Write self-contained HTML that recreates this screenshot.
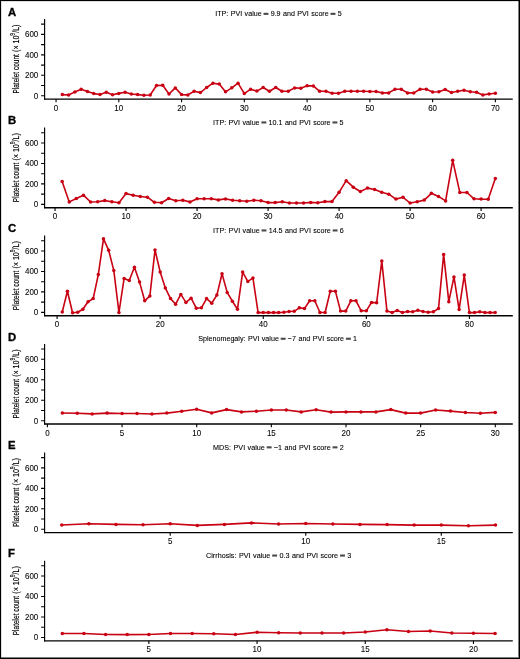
<!DOCTYPE html><html><head><meta charset="utf-8"><style>html,body{margin:0;padding:0;background:#fff;}svg{display:block;will-change:transform}text{font-family:"Liberation Sans", sans-serif;}.k{stroke:#000;stroke-width:0.08px}.y{stroke:#000;stroke-width:0.18px}.t{stroke:#000;stroke-width:0.1px;word-spacing:0.5px}</style></head><body>
<svg width="520" height="659" viewBox="0 0 520 659">
<rect x="0" y="0" width="520" height="659" fill="#fff"/>
<g fill="#000"><rect x="0" y="0" width="1" height="659"/><rect x="0" y="0" width="520" height="1"/><rect x="519" y="0" width="1" height="659"/><rect x="0" y="658" width="520" height="1"/></g>
<g fill="#000" opacity="0.12"><rect x="1" y="1" width="1" height="657"/><rect x="1" y="1" width="518" height="1"/></g>
<g fill="#000" opacity="0.5"><rect x="518" y="1" width="1" height="657"/><rect x="1" y="657" width="517" height="1"/></g>
<text transform="translate(8.0 15.70) scale(1.1 1)" font-size="10.3" font-weight="bold" fill="#000" stroke="#000" stroke-width="0.3">A</text><text id="title0" x="215.20" y="16.00" font-size="8.1" class="t" fill="#000" textLength="126.5" lengthAdjust="spacingAndGlyphs">ITP: PVI value <tspan style="fill:none;stroke:none">=</tspan> 9.9 and PVI score <tspan style="fill:none;stroke:none">=</tspan> 5</text><rect x="263.53" y="12.80" width="4.90" height="2.10" fill="#4a4a4a"/><rect x="330.56" y="12.80" width="4.90" height="2.10" fill="#4a4a4a"/><g transform="translate(18.6 58.95) rotate(-90)" class="y" font-size="9.4" fill="#000"><text x="-34.6" y="0" textLength="39.4" lengthAdjust="spacingAndGlyphs">Platelet count</text><text x="7.0" y="0" textLength="27.4" lengthAdjust="spacingAndGlyphs">(× 10<tspan font-size="6.8" dy="-3.3">9</tspan><tspan dy="3.3">/L)</tspan></text></g><path d="M44.60 19.00 V99.70" fill="none" stroke="#000" stroke-width="1.15"/><path d="M44.05 99.10 H512.80" fill="none" stroke="#000" stroke-width="1.35"/><path d="M41.1 95.80H44.60M41.1 85.56H44.60M41.1 75.32H44.60M41.1 65.08H44.60M41.1 54.84H44.60M41.1 44.60H44.60M41.1 34.36H44.60M41.1 24.12H44.60" stroke="#000" stroke-width="1.1"/><text class="k" transform="translate(38.3 98.70) scale(0.930 1)" font-size="8.60" text-anchor="end" fill="#000">0</text><text class="k" transform="translate(38.3 78.22) scale(0.930 1)" font-size="8.60" text-anchor="end" fill="#000">200</text><text class="k" transform="translate(38.3 57.74) scale(0.930 1)" font-size="8.60" text-anchor="end" fill="#000">400</text><text class="k" transform="translate(38.3 37.26) scale(0.930 1)" font-size="8.60" text-anchor="end" fill="#000">600</text><text class="k" transform="translate(56.05 110.70) scale(0.930 1)" font-size="8.60" text-anchor="middle" fill="#000">0</text><text class="k" transform="translate(118.81 110.70) scale(0.930 1)" font-size="8.60" text-anchor="middle" fill="#000">10</text><text class="k" transform="translate(181.57 110.70) scale(0.930 1)" font-size="8.60" text-anchor="middle" fill="#000">20</text><text class="k" transform="translate(244.33 110.70) scale(0.930 1)" font-size="8.60" text-anchor="middle" fill="#000">30</text><text class="k" transform="translate(307.09 110.70) scale(0.930 1)" font-size="8.60" text-anchor="middle" fill="#000">40</text><text class="k" transform="translate(369.85 110.70) scale(0.930 1)" font-size="8.60" text-anchor="middle" fill="#000">50</text><text class="k" transform="translate(432.61 110.70) scale(0.930 1)" font-size="8.60" text-anchor="middle" fill="#000">60</text><text class="k" transform="translate(495.37 110.70) scale(0.930 1)" font-size="8.60" text-anchor="middle" fill="#000">70</text><path d="M56.05 99.10V102.30M118.81 99.10V102.30M181.57 99.10V102.30M244.33 99.10V102.30M307.09 99.10V102.30M369.85 99.10V102.30M432.61 99.10V102.30M495.37 99.10V102.30" stroke="#000" stroke-width="1.1"/><polyline points="62.33,94.60 68.60,95.00 74.88,91.90 81.15,89.20 87.43,91.50 93.71,93.60 99.98,94.50 106.26,92.30 112.53,94.80 118.81,93.40 125.09,92.20 131.36,94.00 137.64,94.60 143.91,95.20 150.19,95.00 156.47,85.50 162.74,85.20 169.02,94.00 175.29,87.90 181.57,94.60 187.85,94.90 194.12,91.30 200.40,92.60 206.67,87.50 212.95,83.20 219.23,84.10 225.50,91.80 231.78,87.80 238.05,83.20 244.33,93.60 250.61,89.20 256.88,91.10 263.16,87.50 269.43,91.30 275.71,87.50 281.99,91.30 288.26,91.30 294.54,87.90 300.81,88.30 307.09,85.80 313.37,85.90 319.64,91.30 325.92,91.30 332.19,93.30 338.47,93.30 344.75,91.30 351.02,91.30 357.30,91.30 363.57,91.30 369.85,91.50 376.13,91.50 382.40,92.90 388.68,92.90 394.95,89.20 401.23,89.20 407.51,92.90 413.78,92.90 420.06,89.20 426.33,89.30 432.61,92.00 438.89,91.80 445.16,89.50 451.44,92.50 457.71,91.30 463.99,90.20 470.27,91.80 476.54,92.20 482.82,94.90 489.09,94.00 495.37,93.20" fill="none" stroke="#c80012" stroke-width="1.6" stroke-linejoin="round"/><g fill="#c80012"><circle cx="62.33" cy="94.60" r="1.75"/><circle cx="68.60" cy="95.00" r="1.75"/><circle cx="74.88" cy="91.90" r="1.75"/><circle cx="81.15" cy="89.20" r="1.75"/><circle cx="87.43" cy="91.50" r="1.75"/><circle cx="93.71" cy="93.60" r="1.75"/><circle cx="99.98" cy="94.50" r="1.75"/><circle cx="106.26" cy="92.30" r="1.75"/><circle cx="112.53" cy="94.80" r="1.75"/><circle cx="118.81" cy="93.40" r="1.75"/><circle cx="125.09" cy="92.20" r="1.75"/><circle cx="131.36" cy="94.00" r="1.75"/><circle cx="137.64" cy="94.60" r="1.75"/><circle cx="143.91" cy="95.20" r="1.75"/><circle cx="150.19" cy="95.00" r="1.75"/><circle cx="156.47" cy="85.50" r="1.75"/><circle cx="162.74" cy="85.20" r="1.75"/><circle cx="169.02" cy="94.00" r="1.75"/><circle cx="175.29" cy="87.90" r="1.75"/><circle cx="181.57" cy="94.60" r="1.75"/><circle cx="187.85" cy="94.90" r="1.75"/><circle cx="194.12" cy="91.30" r="1.75"/><circle cx="200.40" cy="92.60" r="1.75"/><circle cx="206.67" cy="87.50" r="1.75"/><circle cx="212.95" cy="83.20" r="1.75"/><circle cx="219.23" cy="84.10" r="1.75"/><circle cx="225.50" cy="91.80" r="1.75"/><circle cx="231.78" cy="87.80" r="1.75"/><circle cx="238.05" cy="83.20" r="1.75"/><circle cx="244.33" cy="93.60" r="1.75"/><circle cx="250.61" cy="89.20" r="1.75"/><circle cx="256.88" cy="91.10" r="1.75"/><circle cx="263.16" cy="87.50" r="1.75"/><circle cx="269.43" cy="91.30" r="1.75"/><circle cx="275.71" cy="87.50" r="1.75"/><circle cx="281.99" cy="91.30" r="1.75"/><circle cx="288.26" cy="91.30" r="1.75"/><circle cx="294.54" cy="87.90" r="1.75"/><circle cx="300.81" cy="88.30" r="1.75"/><circle cx="307.09" cy="85.80" r="1.75"/><circle cx="313.37" cy="85.90" r="1.75"/><circle cx="319.64" cy="91.30" r="1.75"/><circle cx="325.92" cy="91.30" r="1.75"/><circle cx="332.19" cy="93.30" r="1.75"/><circle cx="338.47" cy="93.30" r="1.75"/><circle cx="344.75" cy="91.30" r="1.75"/><circle cx="351.02" cy="91.30" r="1.75"/><circle cx="357.30" cy="91.30" r="1.75"/><circle cx="363.57" cy="91.30" r="1.75"/><circle cx="369.85" cy="91.50" r="1.75"/><circle cx="376.13" cy="91.50" r="1.75"/><circle cx="382.40" cy="92.90" r="1.75"/><circle cx="388.68" cy="92.90" r="1.75"/><circle cx="394.95" cy="89.20" r="1.75"/><circle cx="401.23" cy="89.20" r="1.75"/><circle cx="407.51" cy="92.90" r="1.75"/><circle cx="413.78" cy="92.90" r="1.75"/><circle cx="420.06" cy="89.20" r="1.75"/><circle cx="426.33" cy="89.30" r="1.75"/><circle cx="432.61" cy="92.00" r="1.75"/><circle cx="438.89" cy="91.80" r="1.75"/><circle cx="445.16" cy="89.50" r="1.75"/><circle cx="451.44" cy="92.50" r="1.75"/><circle cx="457.71" cy="91.30" r="1.75"/><circle cx="463.99" cy="90.20" r="1.75"/><circle cx="470.27" cy="91.80" r="1.75"/><circle cx="476.54" cy="92.20" r="1.75"/><circle cx="482.82" cy="94.90" r="1.75"/><circle cx="489.09" cy="94.00" r="1.75"/><circle cx="495.37" cy="93.20" r="1.75"/></g>
<text transform="translate(8.0 124.30) scale(1.1 1)" font-size="10.3" font-weight="bold" fill="#000" stroke="#000" stroke-width="0.3">B</text><text id="title1" x="213.10" y="124.60" font-size="8.1" class="t" fill="#000" textLength="130.5" lengthAdjust="spacingAndGlyphs">ITP: PVI value <tspan style="fill:none;stroke:none">=</tspan> 10.1 and PVI score <tspan style="fill:none;stroke:none">=</tspan> 5</text><rect x="261.44" y="121.40" width="4.90" height="2.10" fill="#4a4a4a"/><rect x="332.46" y="121.40" width="4.90" height="2.10" fill="#4a4a4a"/><g transform="translate(18.6 167.55) rotate(-90)" class="y" font-size="9.4" fill="#000"><text x="-34.6" y="0" textLength="39.4" lengthAdjust="spacingAndGlyphs">Platelet count</text><text x="7.0" y="0" textLength="27.4" lengthAdjust="spacingAndGlyphs">(× 10<tspan font-size="6.8" dy="-3.3">9</tspan><tspan dy="3.3">/L)</tspan></text></g><path d="M44.60 127.60 V208.30" fill="none" stroke="#000" stroke-width="1.15"/><path d="M44.05 207.70 H512.80" fill="none" stroke="#000" stroke-width="1.35"/><path d="M41.1 204.40H44.60M41.1 194.16H44.60M41.1 183.92H44.60M41.1 173.68H44.60M41.1 163.44H44.60M41.1 153.20H44.60M41.1 142.96H44.60M41.1 132.72H44.60" stroke="#000" stroke-width="1.1"/><text class="k" transform="translate(38.3 207.30) scale(0.930 1)" font-size="8.60" text-anchor="end" fill="#000">0</text><text class="k" transform="translate(38.3 186.82) scale(0.930 1)" font-size="8.60" text-anchor="end" fill="#000">200</text><text class="k" transform="translate(38.3 166.34) scale(0.930 1)" font-size="8.60" text-anchor="end" fill="#000">400</text><text class="k" transform="translate(38.3 145.86) scale(0.930 1)" font-size="8.60" text-anchor="end" fill="#000">600</text><text class="k" transform="translate(55.05 219.30) scale(0.930 1)" font-size="8.60" text-anchor="middle" fill="#000">0</text><text class="k" transform="translate(126.06 219.30) scale(0.930 1)" font-size="8.60" text-anchor="middle" fill="#000">10</text><text class="k" transform="translate(197.07 219.30) scale(0.930 1)" font-size="8.60" text-anchor="middle" fill="#000">20</text><text class="k" transform="translate(268.08 219.30) scale(0.930 1)" font-size="8.60" text-anchor="middle" fill="#000">30</text><text class="k" transform="translate(339.09 219.30) scale(0.930 1)" font-size="8.60" text-anchor="middle" fill="#000">40</text><text class="k" transform="translate(410.10 219.30) scale(0.930 1)" font-size="8.60" text-anchor="middle" fill="#000">50</text><text class="k" transform="translate(481.11 219.30) scale(0.930 1)" font-size="8.60" text-anchor="middle" fill="#000">60</text><path d="M55.05 207.70V210.90M126.06 207.70V210.90M197.07 207.70V210.90M268.08 207.70V210.90M339.09 207.70V210.90M410.10 207.70V210.90M481.11 207.70V210.90" stroke="#000" stroke-width="1.1"/><polyline points="62.15,181.40 69.25,201.90 76.35,198.50 83.45,195.20 90.56,202.00 97.66,201.80 104.76,200.60 111.86,201.80 118.96,202.70 126.06,193.60 133.16,195.30 140.26,196.50 147.36,197.20 154.46,202.30 161.56,202.70 168.67,198.50 175.77,200.70 182.87,200.30 189.97,201.90 197.07,198.70 204.17,198.70 211.27,198.70 218.37,199.90 225.47,198.90 232.57,200.30 239.68,200.70 246.78,201.20 253.88,200.30 260.98,200.70 268.08,202.60 275.18,202.60 282.28,201.80 289.38,203.00 296.48,203.00 303.58,203.00 310.69,202.40 317.79,202.70 324.89,201.60 331.99,201.60 339.09,192.30 346.19,180.70 353.29,187.20 360.39,191.50 367.49,188.10 374.60,189.50 381.70,192.20 388.80,194.20 395.90,199.10 403.00,197.30 410.10,203.00 417.20,201.80 424.30,200.10 431.40,193.30 438.50,196.40 445.61,200.90 452.71,160.30 459.81,192.40 466.91,192.50 474.01,198.80 481.11,199.10 488.21,199.20 495.31,178.50" fill="none" stroke="#c80012" stroke-width="1.6" stroke-linejoin="round"/><g fill="#c80012"><circle cx="62.15" cy="181.40" r="1.75"/><circle cx="69.25" cy="201.90" r="1.75"/><circle cx="76.35" cy="198.50" r="1.75"/><circle cx="83.45" cy="195.20" r="1.75"/><circle cx="90.56" cy="202.00" r="1.75"/><circle cx="97.66" cy="201.80" r="1.75"/><circle cx="104.76" cy="200.60" r="1.75"/><circle cx="111.86" cy="201.80" r="1.75"/><circle cx="118.96" cy="202.70" r="1.75"/><circle cx="126.06" cy="193.60" r="1.75"/><circle cx="133.16" cy="195.30" r="1.75"/><circle cx="140.26" cy="196.50" r="1.75"/><circle cx="147.36" cy="197.20" r="1.75"/><circle cx="154.46" cy="202.30" r="1.75"/><circle cx="161.56" cy="202.70" r="1.75"/><circle cx="168.67" cy="198.50" r="1.75"/><circle cx="175.77" cy="200.70" r="1.75"/><circle cx="182.87" cy="200.30" r="1.75"/><circle cx="189.97" cy="201.90" r="1.75"/><circle cx="197.07" cy="198.70" r="1.75"/><circle cx="204.17" cy="198.70" r="1.75"/><circle cx="211.27" cy="198.70" r="1.75"/><circle cx="218.37" cy="199.90" r="1.75"/><circle cx="225.47" cy="198.90" r="1.75"/><circle cx="232.57" cy="200.30" r="1.75"/><circle cx="239.68" cy="200.70" r="1.75"/><circle cx="246.78" cy="201.20" r="1.75"/><circle cx="253.88" cy="200.30" r="1.75"/><circle cx="260.98" cy="200.70" r="1.75"/><circle cx="268.08" cy="202.60" r="1.75"/><circle cx="275.18" cy="202.60" r="1.75"/><circle cx="282.28" cy="201.80" r="1.75"/><circle cx="289.38" cy="203.00" r="1.75"/><circle cx="296.48" cy="203.00" r="1.75"/><circle cx="303.58" cy="203.00" r="1.75"/><circle cx="310.69" cy="202.40" r="1.75"/><circle cx="317.79" cy="202.70" r="1.75"/><circle cx="324.89" cy="201.60" r="1.75"/><circle cx="331.99" cy="201.60" r="1.75"/><circle cx="339.09" cy="192.30" r="1.75"/><circle cx="346.19" cy="180.70" r="1.75"/><circle cx="353.29" cy="187.20" r="1.75"/><circle cx="360.39" cy="191.50" r="1.75"/><circle cx="367.49" cy="188.10" r="1.75"/><circle cx="374.60" cy="189.50" r="1.75"/><circle cx="381.70" cy="192.20" r="1.75"/><circle cx="388.80" cy="194.20" r="1.75"/><circle cx="395.90" cy="199.10" r="1.75"/><circle cx="403.00" cy="197.30" r="1.75"/><circle cx="410.10" cy="203.00" r="1.75"/><circle cx="417.20" cy="201.80" r="1.75"/><circle cx="424.30" cy="200.10" r="1.75"/><circle cx="431.40" cy="193.30" r="1.75"/><circle cx="438.50" cy="196.40" r="1.75"/><circle cx="445.61" cy="200.90" r="1.75"/><circle cx="452.71" cy="160.30" r="1.75"/><circle cx="459.81" cy="192.40" r="1.75"/><circle cx="466.91" cy="192.50" r="1.75"/><circle cx="474.01" cy="198.80" r="1.75"/><circle cx="481.11" cy="199.10" r="1.75"/><circle cx="488.21" cy="199.20" r="1.75"/><circle cx="495.31" cy="178.50" r="1.75"/></g>
<text transform="translate(8.0 232.30) scale(1.1 1)" font-size="10.3" font-weight="bold" fill="#000" stroke="#000" stroke-width="0.3">C</text><text id="title2" x="213.10" y="232.60" font-size="8.1" class="t" fill="#000" textLength="130.7" lengthAdjust="spacingAndGlyphs">ITP: PVI value <tspan style="fill:none;stroke:none">=</tspan> 14.5 and PVI score <tspan style="fill:none;stroke:none">=</tspan> 6</text><rect x="261.52" y="229.40" width="4.90" height="2.10" fill="#4a4a4a"/><rect x="332.65" y="229.40" width="4.90" height="2.10" fill="#4a4a4a"/><g transform="translate(18.6 275.55) rotate(-90)" class="y" font-size="9.4" fill="#000"><text x="-34.6" y="0" textLength="39.4" lengthAdjust="spacingAndGlyphs">Platelet count</text><text x="7.0" y="0" textLength="27.4" lengthAdjust="spacingAndGlyphs">(× 10<tspan font-size="6.8" dy="-3.3">9</tspan><tspan dy="3.3">/L)</tspan></text></g><path d="M44.60 235.60 V316.30" fill="none" stroke="#000" stroke-width="1.15"/><path d="M44.05 315.70 H512.80" fill="none" stroke="#000" stroke-width="1.35"/><path d="M41.1 312.40H44.60M41.1 302.16H44.60M41.1 291.92H44.60M41.1 281.68H44.60M41.1 271.44H44.60M41.1 261.20H44.60M41.1 250.96H44.60M41.1 240.72H44.60" stroke="#000" stroke-width="1.1"/><text class="k" transform="translate(38.3 315.30) scale(0.930 1)" font-size="8.60" text-anchor="end" fill="#000">0</text><text class="k" transform="translate(38.3 294.82) scale(0.930 1)" font-size="8.60" text-anchor="end" fill="#000">200</text><text class="k" transform="translate(38.3 274.34) scale(0.930 1)" font-size="8.60" text-anchor="end" fill="#000">400</text><text class="k" transform="translate(38.3 253.86) scale(0.930 1)" font-size="8.60" text-anchor="end" fill="#000">600</text><text class="k" transform="translate(57.10 327.30) scale(0.930 1)" font-size="8.60" text-anchor="middle" fill="#000">0</text><text class="k" transform="translate(160.18 327.30) scale(0.930 1)" font-size="8.60" text-anchor="middle" fill="#000">20</text><text class="k" transform="translate(263.26 327.30) scale(0.930 1)" font-size="8.60" text-anchor="middle" fill="#000">40</text><text class="k" transform="translate(366.34 327.30) scale(0.930 1)" font-size="8.60" text-anchor="middle" fill="#000">60</text><text class="k" transform="translate(469.42 327.30) scale(0.930 1)" font-size="8.60" text-anchor="middle" fill="#000">80</text><path d="M57.10 315.70V318.90M160.18 315.70V318.90M263.26 315.70V318.90M366.34 315.70V318.90M469.42 315.70V318.90" stroke="#000" stroke-width="1.1"/><polyline points="62.25,312.00 67.41,291.20 72.56,312.80 77.72,312.30 82.87,309.30 88.02,301.80 93.18,298.60 98.33,274.50 103.49,238.80 108.64,250.20 113.79,270.40 118.95,312.50 124.10,278.40 129.26,280.50 134.41,267.20 139.56,282.10 144.72,300.80 149.87,295.90 155.03,249.90 160.18,272.00 165.33,287.90 170.49,298.60 175.64,304.20 180.80,294.40 185.95,302.40 191.10,298.20 196.26,308.20 201.41,307.80 206.57,298.60 211.72,303.20 216.87,295.10 222.03,273.70 227.18,292.40 232.34,301.20 237.49,309.20 242.64,272.10 247.80,281.40 252.95,278.10 258.11,312.60 263.26,312.60 268.41,312.60 273.57,312.60 278.72,312.60 283.88,312.20 289.03,311.50 294.18,311.30 299.34,307.80 304.49,308.60 309.65,300.80 314.80,300.80 319.95,312.50 325.11,312.50 330.26,291.20 335.42,291.20 340.57,311.10 345.72,311.10 350.88,300.80 356.03,300.80 361.19,310.80 366.34,310.80 371.49,302.40 376.65,302.80 381.80,261.00 386.96,311.10 392.11,312.50 397.26,310.40 402.42,312.50 407.57,311.50 412.73,311.80 417.88,310.30 423.03,311.50 428.19,312.20 433.34,311.80 438.50,308.60 443.65,254.40 448.80,301.70 453.96,276.90 459.11,309.60 464.27,275.10 469.42,312.60 474.57,312.60 479.73,311.80 484.88,312.60 490.04,312.60 495.19,312.60" fill="none" stroke="#c80012" stroke-width="1.6" stroke-linejoin="round"/><g fill="#c80012"><circle cx="62.25" cy="312.00" r="1.75"/><circle cx="67.41" cy="291.20" r="1.75"/><circle cx="72.56" cy="312.80" r="1.75"/><circle cx="77.72" cy="312.30" r="1.75"/><circle cx="82.87" cy="309.30" r="1.75"/><circle cx="88.02" cy="301.80" r="1.75"/><circle cx="93.18" cy="298.60" r="1.75"/><circle cx="98.33" cy="274.50" r="1.75"/><circle cx="103.49" cy="238.80" r="1.75"/><circle cx="108.64" cy="250.20" r="1.75"/><circle cx="113.79" cy="270.40" r="1.75"/><circle cx="118.95" cy="312.50" r="1.75"/><circle cx="124.10" cy="278.40" r="1.75"/><circle cx="129.26" cy="280.50" r="1.75"/><circle cx="134.41" cy="267.20" r="1.75"/><circle cx="139.56" cy="282.10" r="1.75"/><circle cx="144.72" cy="300.80" r="1.75"/><circle cx="149.87" cy="295.90" r="1.75"/><circle cx="155.03" cy="249.90" r="1.75"/><circle cx="160.18" cy="272.00" r="1.75"/><circle cx="165.33" cy="287.90" r="1.75"/><circle cx="170.49" cy="298.60" r="1.75"/><circle cx="175.64" cy="304.20" r="1.75"/><circle cx="180.80" cy="294.40" r="1.75"/><circle cx="185.95" cy="302.40" r="1.75"/><circle cx="191.10" cy="298.20" r="1.75"/><circle cx="196.26" cy="308.20" r="1.75"/><circle cx="201.41" cy="307.80" r="1.75"/><circle cx="206.57" cy="298.60" r="1.75"/><circle cx="211.72" cy="303.20" r="1.75"/><circle cx="216.87" cy="295.10" r="1.75"/><circle cx="222.03" cy="273.70" r="1.75"/><circle cx="227.18" cy="292.40" r="1.75"/><circle cx="232.34" cy="301.20" r="1.75"/><circle cx="237.49" cy="309.20" r="1.75"/><circle cx="242.64" cy="272.10" r="1.75"/><circle cx="247.80" cy="281.40" r="1.75"/><circle cx="252.95" cy="278.10" r="1.75"/><circle cx="258.11" cy="312.60" r="1.75"/><circle cx="263.26" cy="312.60" r="1.75"/><circle cx="268.41" cy="312.60" r="1.75"/><circle cx="273.57" cy="312.60" r="1.75"/><circle cx="278.72" cy="312.60" r="1.75"/><circle cx="283.88" cy="312.20" r="1.75"/><circle cx="289.03" cy="311.50" r="1.75"/><circle cx="294.18" cy="311.30" r="1.75"/><circle cx="299.34" cy="307.80" r="1.75"/><circle cx="304.49" cy="308.60" r="1.75"/><circle cx="309.65" cy="300.80" r="1.75"/><circle cx="314.80" cy="300.80" r="1.75"/><circle cx="319.95" cy="312.50" r="1.75"/><circle cx="325.11" cy="312.50" r="1.75"/><circle cx="330.26" cy="291.20" r="1.75"/><circle cx="335.42" cy="291.20" r="1.75"/><circle cx="340.57" cy="311.10" r="1.75"/><circle cx="345.72" cy="311.10" r="1.75"/><circle cx="350.88" cy="300.80" r="1.75"/><circle cx="356.03" cy="300.80" r="1.75"/><circle cx="361.19" cy="310.80" r="1.75"/><circle cx="366.34" cy="310.80" r="1.75"/><circle cx="371.49" cy="302.40" r="1.75"/><circle cx="376.65" cy="302.80" r="1.75"/><circle cx="381.80" cy="261.00" r="1.75"/><circle cx="386.96" cy="311.10" r="1.75"/><circle cx="392.11" cy="312.50" r="1.75"/><circle cx="397.26" cy="310.40" r="1.75"/><circle cx="402.42" cy="312.50" r="1.75"/><circle cx="407.57" cy="311.50" r="1.75"/><circle cx="412.73" cy="311.80" r="1.75"/><circle cx="417.88" cy="310.30" r="1.75"/><circle cx="423.03" cy="311.50" r="1.75"/><circle cx="428.19" cy="312.20" r="1.75"/><circle cx="433.34" cy="311.80" r="1.75"/><circle cx="438.50" cy="308.60" r="1.75"/><circle cx="443.65" cy="254.40" r="1.75"/><circle cx="448.80" cy="301.70" r="1.75"/><circle cx="453.96" cy="276.90" r="1.75"/><circle cx="459.11" cy="309.60" r="1.75"/><circle cx="464.27" cy="275.10" r="1.75"/><circle cx="469.42" cy="312.60" r="1.75"/><circle cx="474.57" cy="312.60" r="1.75"/><circle cx="479.73" cy="311.80" r="1.75"/><circle cx="484.88" cy="312.60" r="1.75"/><circle cx="490.04" cy="312.60" r="1.75"/><circle cx="495.19" cy="312.60" r="1.75"/></g>
<text transform="translate(8.0 340.60) scale(1.1 1)" font-size="10.3" font-weight="bold" fill="#000" stroke="#000" stroke-width="0.3">D</text><text id="title3" x="198.30" y="340.90" font-size="8.1" class="t" fill="#000" textLength="158.8" lengthAdjust="spacingAndGlyphs">Splenomegaly: PVI value <tspan style="fill:none;stroke:none">=</tspan> −7 and PVI score <tspan style="fill:none;stroke:none">=</tspan> 1</text><rect x="280.71" y="337.70" width="4.90" height="2.10" fill="#4a4a4a"/><rect x="345.96" y="337.70" width="4.90" height="2.10" fill="#4a4a4a"/><g transform="translate(18.6 383.85) rotate(-90)" class="y" font-size="9.4" fill="#000"><text x="-34.6" y="0" textLength="39.4" lengthAdjust="spacingAndGlyphs">Platelet count</text><text x="7.0" y="0" textLength="27.4" lengthAdjust="spacingAndGlyphs">(× 10<tspan font-size="6.8" dy="-3.3">9</tspan><tspan dy="3.3">/L)</tspan></text></g><path d="M44.60 343.90 V424.60" fill="none" stroke="#000" stroke-width="1.15"/><path d="M44.05 424.00 H512.80" fill="none" stroke="#000" stroke-width="1.35"/><path d="M41.1 420.70H44.60M41.1 410.46H44.60M41.1 400.22H44.60M41.1 389.98H44.60M41.1 379.74H44.60M41.1 369.50H44.60M41.1 359.26H44.60M41.1 349.02H44.60" stroke="#000" stroke-width="1.1"/><text class="k" transform="translate(38.3 423.60) scale(0.930 1)" font-size="8.60" text-anchor="end" fill="#000">0</text><text class="k" transform="translate(38.3 403.12) scale(0.930 1)" font-size="8.60" text-anchor="end" fill="#000">200</text><text class="k" transform="translate(38.3 382.64) scale(0.930 1)" font-size="8.60" text-anchor="end" fill="#000">400</text><text class="k" transform="translate(38.3 362.16) scale(0.930 1)" font-size="8.60" text-anchor="end" fill="#000">600</text><text class="k" transform="translate(47.40 435.60) scale(0.930 1)" font-size="8.60" text-anchor="middle" fill="#000">0</text><text class="k" transform="translate(122.05 435.60) scale(0.930 1)" font-size="8.60" text-anchor="middle" fill="#000">5</text><text class="k" transform="translate(196.70 435.60) scale(0.930 1)" font-size="8.60" text-anchor="middle" fill="#000">10</text><text class="k" transform="translate(271.35 435.60) scale(0.930 1)" font-size="8.60" text-anchor="middle" fill="#000">15</text><text class="k" transform="translate(346.00 435.60) scale(0.930 1)" font-size="8.60" text-anchor="middle" fill="#000">20</text><text class="k" transform="translate(420.65 435.60) scale(0.930 1)" font-size="8.60" text-anchor="middle" fill="#000">25</text><text class="k" transform="translate(495.30 435.60) scale(0.930 1)" font-size="8.60" text-anchor="middle" fill="#000">30</text><path d="M47.40 424.00V427.20M122.05 424.00V427.20M196.70 424.00V427.20M271.35 424.00V427.20M346.00 424.00V427.20M420.65 424.00V427.20M495.30 424.00V427.20" stroke="#000" stroke-width="1.1"/><polyline points="62.33,413.00 77.26,413.30 92.19,413.90 107.12,413.10 122.05,413.50 136.98,413.50 151.91,414.00 166.84,413.10 181.77,411.20 196.70,409.20 211.63,412.90 226.56,409.60 241.49,411.90 256.42,411.30 271.35,410.00 286.28,410.00 301.21,411.90 316.14,409.80 331.07,412.10 346.00,411.90 360.93,411.90 375.86,411.90 390.79,409.60 405.72,413.10 420.65,413.10 435.58,410.00 450.51,411.10 465.44,412.50 480.37,413.20 495.30,412.40" fill="none" stroke="#c80012" stroke-width="1.6" stroke-linejoin="round"/><g fill="#c80012"><circle cx="62.33" cy="413.00" r="1.75"/><circle cx="77.26" cy="413.30" r="1.75"/><circle cx="92.19" cy="413.90" r="1.75"/><circle cx="107.12" cy="413.10" r="1.75"/><circle cx="122.05" cy="413.50" r="1.75"/><circle cx="136.98" cy="413.50" r="1.75"/><circle cx="151.91" cy="414.00" r="1.75"/><circle cx="166.84" cy="413.10" r="1.75"/><circle cx="181.77" cy="411.20" r="1.75"/><circle cx="196.70" cy="409.20" r="1.75"/><circle cx="211.63" cy="412.90" r="1.75"/><circle cx="226.56" cy="409.60" r="1.75"/><circle cx="241.49" cy="411.90" r="1.75"/><circle cx="256.42" cy="411.30" r="1.75"/><circle cx="271.35" cy="410.00" r="1.75"/><circle cx="286.28" cy="410.00" r="1.75"/><circle cx="301.21" cy="411.90" r="1.75"/><circle cx="316.14" cy="409.80" r="1.75"/><circle cx="331.07" cy="412.10" r="1.75"/><circle cx="346.00" cy="411.90" r="1.75"/><circle cx="360.93" cy="411.90" r="1.75"/><circle cx="375.86" cy="411.90" r="1.75"/><circle cx="390.79" cy="409.60" r="1.75"/><circle cx="405.72" cy="413.10" r="1.75"/><circle cx="420.65" cy="413.10" r="1.75"/><circle cx="435.58" cy="410.00" r="1.75"/><circle cx="450.51" cy="411.10" r="1.75"/><circle cx="465.44" cy="412.50" r="1.75"/><circle cx="480.37" cy="413.20" r="1.75"/><circle cx="495.30" cy="412.40" r="1.75"/></g>
<text transform="translate(8.0 449.20) scale(1.1 1)" font-size="10.3" font-weight="bold" fill="#000" stroke="#000" stroke-width="0.3">E</text><text id="title4" x="213.10" y="449.50" font-size="8.1" class="t" fill="#000" textLength="130.7" lengthAdjust="spacingAndGlyphs">MDS: PVI value <tspan style="fill:none;stroke:none">=</tspan> −1 and PVI score <tspan style="fill:none;stroke:none">=</tspan> 2</text><rect x="266.71" y="446.30" width="4.90" height="2.10" fill="#4a4a4a"/><rect x="332.58" y="446.30" width="4.90" height="2.10" fill="#4a4a4a"/><g transform="translate(18.6 492.45) rotate(-90)" class="y" font-size="9.4" fill="#000"><text x="-34.6" y="0" textLength="39.4" lengthAdjust="spacingAndGlyphs">Platelet count</text><text x="7.0" y="0" textLength="27.4" lengthAdjust="spacingAndGlyphs">(× 10<tspan font-size="6.8" dy="-3.3">9</tspan><tspan dy="3.3">/L)</tspan></text></g><path d="M44.60 452.50 V533.20" fill="none" stroke="#000" stroke-width="1.15"/><path d="M44.05 532.60 H512.80" fill="none" stroke="#000" stroke-width="1.35"/><path d="M41.1 529.30H44.60M41.1 519.06H44.60M41.1 508.82H44.60M41.1 498.58H44.60M41.1 488.34H44.60M41.1 478.10H44.60M41.1 467.86H44.60M41.1 457.62H44.60" stroke="#000" stroke-width="1.1"/><text class="k" transform="translate(38.3 532.20) scale(0.930 1)" font-size="8.60" text-anchor="end" fill="#000">0</text><text class="k" transform="translate(38.3 511.72) scale(0.930 1)" font-size="8.60" text-anchor="end" fill="#000">200</text><text class="k" transform="translate(38.3 491.24) scale(0.930 1)" font-size="8.60" text-anchor="end" fill="#000">400</text><text class="k" transform="translate(38.3 470.76) scale(0.930 1)" font-size="8.60" text-anchor="end" fill="#000">600</text><text class="k" transform="translate(170.20 544.20) scale(0.930 1)" font-size="8.60" text-anchor="middle" fill="#000">5</text><text class="k" transform="translate(305.75 544.20) scale(0.930 1)" font-size="8.60" text-anchor="middle" fill="#000">10</text><text class="k" transform="translate(441.30 544.20) scale(0.930 1)" font-size="8.60" text-anchor="middle" fill="#000">15</text><path d="M170.20 532.60V535.80M305.75 532.60V535.80M441.30 532.60V535.80" stroke="#000" stroke-width="1.1"/><polyline points="61.76,525.00 88.87,523.80 115.98,524.40 143.09,524.80 170.20,523.80 197.31,525.40 224.42,524.40 251.53,522.90 278.64,524.00 305.75,523.50 332.86,524.00 359.97,524.40 387.08,524.60 414.19,525.10 441.30,525.10 468.41,525.80 495.52,525.10" fill="none" stroke="#c80012" stroke-width="1.6" stroke-linejoin="round"/><g fill="#c80012"><circle cx="61.76" cy="525.00" r="1.75"/><circle cx="88.87" cy="523.80" r="1.75"/><circle cx="115.98" cy="524.40" r="1.75"/><circle cx="143.09" cy="524.80" r="1.75"/><circle cx="170.20" cy="523.80" r="1.75"/><circle cx="197.31" cy="525.40" r="1.75"/><circle cx="224.42" cy="524.40" r="1.75"/><circle cx="251.53" cy="522.90" r="1.75"/><circle cx="278.64" cy="524.00" r="1.75"/><circle cx="305.75" cy="523.50" r="1.75"/><circle cx="332.86" cy="524.00" r="1.75"/><circle cx="359.97" cy="524.40" r="1.75"/><circle cx="387.08" cy="524.60" r="1.75"/><circle cx="414.19" cy="525.10" r="1.75"/><circle cx="441.30" cy="525.10" r="1.75"/><circle cx="468.41" cy="525.80" r="1.75"/><circle cx="495.52" cy="525.10" r="1.75"/></g>
<text transform="translate(8.0 557.40) scale(1.1 1)" font-size="10.3" font-weight="bold" fill="#000" stroke="#000" stroke-width="0.3">F</text><text id="title5" x="206.00" y="557.70" font-size="8.1" class="t" fill="#000" textLength="145.3" lengthAdjust="spacingAndGlyphs">Cirrhosis: PVI value <tspan style="fill:none;stroke:none">=</tspan> 0.3 and PVI score <tspan style="fill:none;stroke:none">=</tspan> 3</text><rect x="272.20" y="554.50" width="4.90" height="2.10" fill="#4a4a4a"/><rect x="340.06" y="554.50" width="4.90" height="2.10" fill="#4a4a4a"/><g transform="translate(18.6 600.65) rotate(-90)" class="y" font-size="9.4" fill="#000"><text x="-34.6" y="0" textLength="39.4" lengthAdjust="spacingAndGlyphs">Platelet count</text><text x="7.0" y="0" textLength="27.4" lengthAdjust="spacingAndGlyphs">(× 10<tspan font-size="6.8" dy="-3.3">9</tspan><tspan dy="3.3">/L)</tspan></text></g><path d="M44.60 560.70 V641.40" fill="none" stroke="#000" stroke-width="1.15"/><path d="M44.05 640.80 H512.80" fill="none" stroke="#000" stroke-width="1.35"/><path d="M41.1 637.50H44.60M41.1 627.26H44.60M41.1 617.02H44.60M41.1 606.78H44.60M41.1 596.54H44.60M41.1 586.30H44.60M41.1 576.06H44.60M41.1 565.82H44.60" stroke="#000" stroke-width="1.1"/><text class="k" transform="translate(38.3 640.40) scale(0.930 1)" font-size="8.60" text-anchor="end" fill="#000">0</text><text class="k" transform="translate(38.3 619.92) scale(0.930 1)" font-size="8.60" text-anchor="end" fill="#000">200</text><text class="k" transform="translate(38.3 599.44) scale(0.930 1)" font-size="8.60" text-anchor="end" fill="#000">400</text><text class="k" transform="translate(38.3 578.96) scale(0.930 1)" font-size="8.60" text-anchor="end" fill="#000">600</text><text class="k" transform="translate(148.85 652.40) scale(0.930 1)" font-size="8.60" text-anchor="middle" fill="#000">5</text><text class="k" transform="translate(257.05 652.40) scale(0.930 1)" font-size="8.60" text-anchor="middle" fill="#000">10</text><text class="k" transform="translate(365.25 652.40) scale(0.930 1)" font-size="8.60" text-anchor="middle" fill="#000">15</text><text class="k" transform="translate(473.45 652.40) scale(0.930 1)" font-size="8.60" text-anchor="middle" fill="#000">20</text><path d="M148.85 640.80V644.00M257.05 640.80V644.00M365.25 640.80V644.00M473.45 640.80V644.00" stroke="#000" stroke-width="1.1"/><polyline points="62.29,633.50 83.93,633.50 105.57,634.50 127.21,634.60 148.85,634.50 170.49,633.50 192.13,633.50 213.77,633.70 235.41,634.50 257.05,632.30 278.69,632.80 300.33,633.00 321.97,633.00 343.61,633.00 365.25,632.00 386.89,629.80 408.53,631.50 430.17,631.00 451.81,633.00 473.45,633.20 495.09,633.50" fill="none" stroke="#c80012" stroke-width="1.6" stroke-linejoin="round"/><g fill="#c80012"><circle cx="62.29" cy="633.50" r="1.75"/><circle cx="83.93" cy="633.50" r="1.75"/><circle cx="105.57" cy="634.50" r="1.75"/><circle cx="127.21" cy="634.60" r="1.75"/><circle cx="148.85" cy="634.50" r="1.75"/><circle cx="170.49" cy="633.50" r="1.75"/><circle cx="192.13" cy="633.50" r="1.75"/><circle cx="213.77" cy="633.70" r="1.75"/><circle cx="235.41" cy="634.50" r="1.75"/><circle cx="257.05" cy="632.30" r="1.75"/><circle cx="278.69" cy="632.80" r="1.75"/><circle cx="300.33" cy="633.00" r="1.75"/><circle cx="321.97" cy="633.00" r="1.75"/><circle cx="343.61" cy="633.00" r="1.75"/><circle cx="365.25" cy="632.00" r="1.75"/><circle cx="386.89" cy="629.80" r="1.75"/><circle cx="408.53" cy="631.50" r="1.75"/><circle cx="430.17" cy="631.00" r="1.75"/><circle cx="451.81" cy="633.00" r="1.75"/><circle cx="473.45" cy="633.20" r="1.75"/><circle cx="495.09" cy="633.50" r="1.75"/></g>
</svg></body></html>
